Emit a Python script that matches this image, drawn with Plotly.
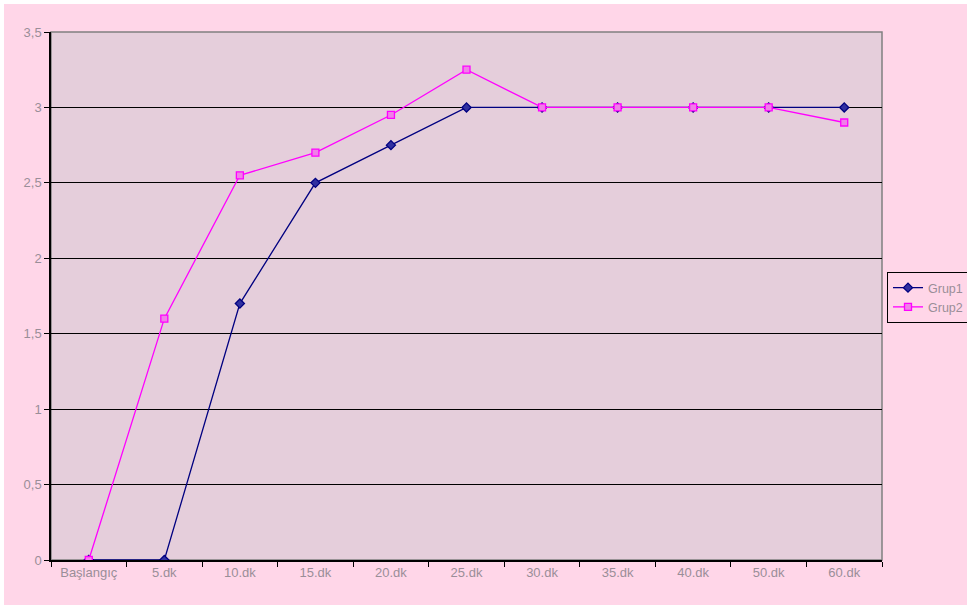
import plotly.graph_objects as go

# Time points and mean scores for the two groups
categories = ["Başlangıç", "5.dk", "10.dk", "15.dk", "20.dk", "25.dk",
              "30.dk", "35.dk", "40.dk", "50.dk", "60.dk"]
grup1 = [0, 0, 1.7, 2.5, 2.75, 3, 3, 3, 3, 3, 3]
grup2 = [0, 1.6, 2.55, 2.7, 2.95, 3.25, 3, 3, 3, 3, 2.9]
y_ticks = [0, 0.5, 1, 1.5, 2, 2.5, 3, 3.5]
y_tick_labels = ["0", "0,5", "1", "1,5", "2", "2,5", "3", "3,5"]

PAPER = "#FFD6E8"
PLOT = "#E5CEDB"
TEXT = "#9A8E98"

W, H = 967, 605
L, R, T, B = 51, 0, 32, 45
plot_right = 882
pw, ph = W - L - R, H - T - B
x_end = (plot_right - L) / pw

fig = go.Figure()
fig.add_trace(go.Scatter(
    x=categories, y=grup1, name="Grup1", mode="lines+markers",
    line=dict(color="#000080", width=1.3),
    marker=dict(symbol="diamond", size=7, color="#3030A0",
                line=dict(color="#000080", width=1.3)),
))
fig.add_trace(go.Scatter(
    x=categories, y=grup2, name="Grup2", mode="lines+markers",
    line=dict(color="#FF00FF", width=1.3),
    marker=dict(symbol="square", size=7, color="#F080E8",
                line=dict(color="#FF00FF", width=1.3)),
))

# Grey frame around the plot area
fig.add_shape(type="rect", xref="paper", yref="paper", x0=0, y0=0, x1=x_end, y1=1,
              line=dict(color="#808080", width=1.5), fillcolor="rgba(0,0,0,0)",
              layer="between")
# Thin white strips along the top and left edges of the page
fig.add_shape(type="rect", xref="paper", yref="paper",
              x0=-L / pw - 0.01, x1=(4 - L) / pw, y0=-B / ph - 0.01, y1=1 + T / ph + 0.01,
              line=dict(width=0), fillcolor="white", layer="below")
fig.add_shape(type="rect", xref="paper", yref="paper",
              x0=-L / pw - 0.01, x1=1.01, y0=1 + (T - 4) / ph, y1=1 + T / ph + 0.01,
              line=dict(width=0), fillcolor="white", layer="below")

fig.update_layout(
    width=W, height=H,
    margin=dict(l=L, r=R, t=T, b=B, autoexpand=False),
    paper_bgcolor=PAPER, plot_bgcolor=PLOT,
    font=dict(family="Liberation Sans, Arial, sans-serif", size=13, color=TEXT),
    separators=",.",
    showlegend=True,
    legend=dict(x=(887 - L) / pw, y=(H - B - 272) / ph, xanchor="left", yanchor="top",
                bgcolor=PAPER, bordercolor="#000000", borderwidth=1,
                font=dict(size=12.5, color=TEXT), tracegroupgap=0,
                itemwidth=30),
    xaxis=dict(type="category", tickson="boundaries", ticks="outside", ticklen=5,
               tickcolor="#000000", showline=True, linecolor="#000000", linewidth=1.5,
               showgrid=False, range=[-0.5, len(categories) - 0.5],
               domain=[0, x_end],
               tickfont=dict(size=13, color=TEXT), fixedrange=True),
    yaxis=dict(range=[0, 3.5], tickvals=y_ticks, ticktext=y_tick_labels,
               ticks="outside", ticklen=5, tickcolor="#000000",
               showline=True, linecolor="#000000", linewidth=1.5,
               showgrid=True, gridcolor="#000000", gridwidth=1, zeroline=False,
               tickfont=dict(size=13, color=TEXT), fixedrange=True),
)

fig.write_html("out.html")
